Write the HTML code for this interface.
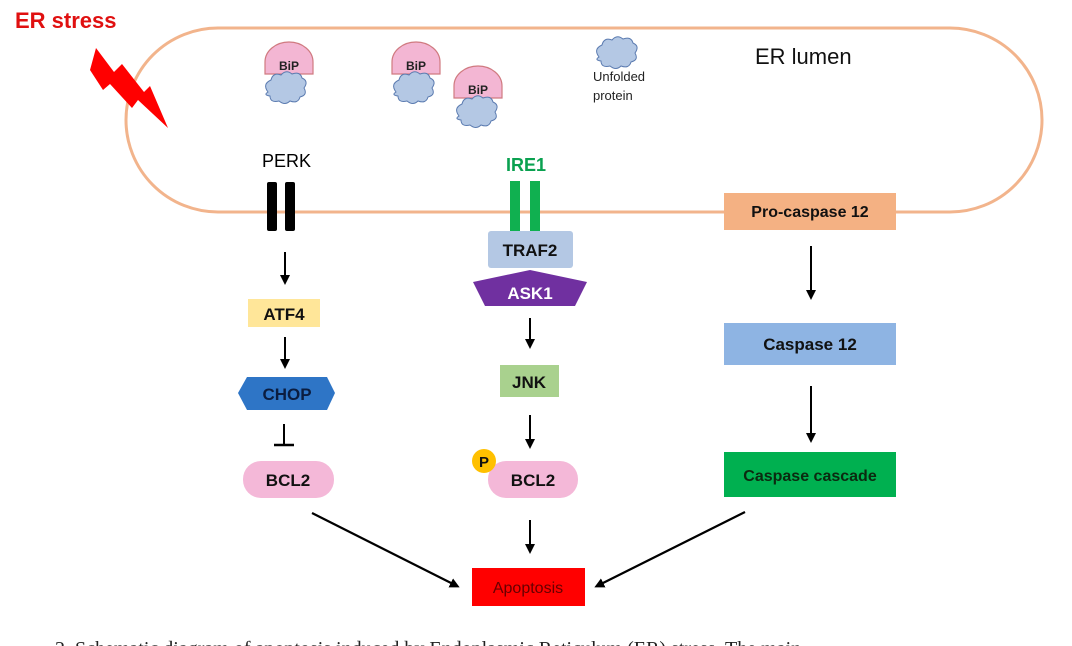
<!DOCTYPE html>
<html><head><meta charset="utf-8"><style>
html,body{margin:0;padding:0;background:#fff;width:1072px;height:646px;overflow:hidden}
svg{display:block}
text{font-family:"Liberation Sans","DejaVu Sans",sans-serif}
</style></head><body>
<svg width="1072" height="646" viewBox="0 0 1072 646" xmlns="http://www.w3.org/2000/svg">
<defs>
<marker id="ah" markerWidth="10" markerHeight="10" refX="7" refY="5" orient="auto" markerUnits="userSpaceOnUse">
<path d="M0,0 L10,5 L0,10 z" fill="#000"/></marker>
<g id="cloud"><path d="M-18,4 q-6,-8 3,-12 q2,-8 10,-5 q5,-6 11,-1 q8,-3 10,4 q7,3 2,10 q4,7 -4,9 q-2,7 -10,4 q-5,5 -11,0 q-9,2 -9,-5 q-7,-1 -2,-4z" fill="#b4c8e4" stroke="#5b7bb0" stroke-width="1"/></g>
<g id="bip"><path d="M-24,12 L-24,0 A24,20 0 0 1 24,0 L24,12 Z" fill="#f3b6d3" stroke="#d07a80" stroke-width="1.2"/><text x="0" y="8" font-size="12" font-weight="bold" text-anchor="middle" fill="#222">BiP</text></g>
</defs>
<rect x="126" y="28" width="916" height="184" rx="92" fill="none" stroke="#f2b48c" stroke-width="3"/>
<text x="15" y="28" font-size="22" font-weight="bold" fill="#e01010">ER stress</text>
<polygon points="96,48 114,72 122,64 144,92 150,86 168,128 138,100 132,108 110,84 103,90 90,70" fill="#ff0000"/>
<use href="#bip" x="289" y="62"/><use href="#cloud" x="286" y="88"/>
<use href="#bip" x="416" y="62"/><use href="#cloud" x="414" y="88"/>
<use href="#bip" x="478" y="86"/><use href="#cloud" x="477" y="112"/>
<use href="#cloud" x="617" y="53"/>
<text x="593" y="81" font-size="13" fill="#222">Unfolded</text>
<text x="593" y="100" font-size="13" fill="#222">protein</text>
<text x="755" y="64" font-size="22" fill="#111">ER lumen</text>
<text x="262" y="167" font-size="18" fill="#000">PERK</text>
<rect x="267" y="182" width="10" height="49" rx="2" fill="#000"/><rect x="285" y="182" width="10" height="49" rx="2" fill="#000"/>
<text x="506" y="171" font-size="18" font-weight="bold" fill="#0aa150">IRE1</text>
<rect x="510" y="181" width="10" height="51" fill="#10b050"/><rect x="530" y="181" width="10" height="51" fill="#10b050"/>
<rect x="488" y="231" width="85" height="37" rx="3" fill="#b4c8e4"/>
<text x="530" y="256" font-size="17" font-weight="bold" text-anchor="middle" fill="#111">TRAF2</text>
<polygon points="530,270 587,282 575,306 485,306 473,282" fill="#7030a0"/>
<text x="530" y="299" font-size="17" font-weight="bold" text-anchor="middle" fill="#fff">ASK1</text>
<line x1="530" y1="318" x2="530" y2="346" stroke="#000" stroke-width="2" marker-end="url(#ah)"/>
<rect x="500" y="365" width="59" height="32" fill="#a9d18e"/>
<text x="529" y="388" font-size="17" font-weight="bold" text-anchor="middle" fill="#111">JNK</text>
<line x1="530" y1="415" x2="530" y2="446" stroke="#000" stroke-width="2" marker-end="url(#ah)"/>
<rect x="488" y="461" width="90" height="37" rx="18" fill="#f4b8d8"/>
<text x="533" y="486" font-size="17" font-weight="bold" text-anchor="middle" fill="#111">BCL2</text>
<circle cx="484" cy="461" r="12" fill="#ffc000"/>
<text x="484" y="467" font-size="15" font-weight="bold" text-anchor="middle" fill="#111">P</text>
<line x1="530" y1="520" x2="530" y2="551" stroke="#000" stroke-width="2" marker-end="url(#ah)"/>
<rect x="472" y="568" width="113" height="38" fill="#ff0000"/>
<text x="528" y="593" font-size="16" text-anchor="middle" fill="#600">Apoptosis</text>
<line x1="285" y1="252" x2="285" y2="282" stroke="#000" stroke-width="2" marker-end="url(#ah)"/>
<rect x="248" y="299" width="72" height="28" fill="#ffe699"/>
<text x="284" y="320" font-size="17" font-weight="bold" text-anchor="middle" fill="#111">ATF4</text>
<line x1="285" y1="337" x2="285" y2="366" stroke="#000" stroke-width="2" marker-end="url(#ah)"/>
<polygon points="247,377 327,377 335,393 327,410 247,410 238,393" fill="#2e75c6"/>
<text x="287" y="400" font-size="17" font-weight="bold" text-anchor="middle" fill="#0b1d40">CHOP</text>
<line x1="284" y1="424" x2="284" y2="445" stroke="#000" stroke-width="2"/>
<line x1="274" y1="445" x2="294" y2="445" stroke="#000" stroke-width="2.5"/>
<rect x="243" y="461" width="91" height="37" rx="18" fill="#f4b8d8"/>
<text x="288" y="486" font-size="17" font-weight="bold" text-anchor="middle" fill="#111">BCL2</text>
<rect x="724" y="193" width="172" height="37" fill="#f4b183"/>
<text x="810" y="217" font-size="16" font-weight="bold" text-anchor="middle" fill="#111">Pro-caspase 12</text>
<line x1="811" y1="246" x2="811" y2="297" stroke="#000" stroke-width="2" marker-end="url(#ah)"/>
<rect x="724" y="323" width="172" height="42" fill="#8eb4e3"/>
<text x="810" y="350" font-size="17" font-weight="bold" text-anchor="middle" fill="#111">Caspase 12</text>
<line x1="811" y1="386" x2="811" y2="440" stroke="#000" stroke-width="2" marker-end="url(#ah)"/>
<rect x="724" y="452" width="172" height="45" fill="#00b050"/>
<text x="810" y="481" font-size="16" font-weight="bold" text-anchor="middle" fill="#0b2a10">Caspase cascade</text>
<line x1="312" y1="513" x2="457" y2="586" stroke="#000" stroke-width="2.2" marker-end="url(#ah)"/>
<line x1="745" y1="512" x2="597" y2="586" stroke="#000" stroke-width="2.2" marker-end="url(#ah)"/>
<text x="55" y="655" font-size="20" style="font-family:'Liberation Serif',serif" fill="#222">2. Schematic diagram of apoptosis induced by Endoplasmic Reticulum (ER) stress. The main</text>
</svg>
</body></html>
